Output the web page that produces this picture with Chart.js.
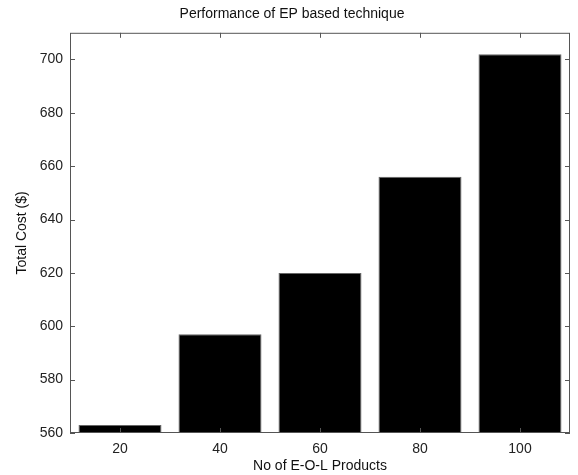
<!DOCTYPE html>
<html>
<head>
<meta charset="utf-8">
<script src="https://cdn.jsdelivr.net/npm/chart.js@4"></script>
<style>
  html, body { margin: 0; padding: 0; background: #fff; }
  #wrap { width: 578px; height: 475px; }
</style>
</head>
<body>
<div id="wrap"><canvas id="chart" width="578" height="475"></canvas></div>
<script>
// Donnees du graphique
const categories = ['20', '40', '60', '80', '100'];
const totalCost = [563, 597, 620, 656, 702];
const yTicks = [560, 580, 600, 620, 640, 660, 680, 700];

const FONT = "'Liberation Sans', Arial, sans-serif";
const frameColor = '#555';

// Cadre + graduations vers l'interieur (style MATLAB)
const framePlugin = {
    id: 'frame',
    afterDraw(chart) {
        const ctx = chart.ctx;
        const a = chart.chartArea;
        const x = chart.scales.x;
        const y = chart.scales.y;
        const len = 5;
        ctx.save();
        ctx.strokeStyle = frameColor;
        ctx.lineWidth = 1;
        ctx.strokeRect(a.left + 0.5, a.top + 0.5, a.right - a.left - 1, a.bottom - a.top - 1);
        ctx.beginPath();
        x.ticks.forEach((t, i) => {
            const px = Math.round(x.getPixelForTick(i)) + 0.5;
            ctx.moveTo(px, a.bottom); ctx.lineTo(px, a.bottom - len);
            ctx.moveTo(px, a.top); ctx.lineTo(px, a.top + len);
        });
        y.ticks.forEach((t, i) => {
            const py = Math.round(y.getPixelForTick(i)) + 0.5;
            ctx.moveTo(a.left, py); ctx.lineTo(a.left + len, py);
            ctx.moveTo(a.right, py); ctx.lineTo(a.right - len, py);
        });
        ctx.stroke();
        ctx.restore();
    }
};

new Chart(document.getElementById('chart'), {
    type: 'bar',
    data: {
        labels: categories,
        datasets: [{
            data: totalCost,
            backgroundColor: '#000',
            borderColor: '#666',
            borderWidth: 1,
            barPercentage: 0.83,
            categoryPercentage: 1.0
        }]
    },
    options: {
        responsive: false,
        animation: false,
        layout: { padding: { left: 14, right: 8, top: 6, bottom: 0 } },
        plugins: {
            legend: { display: false },
            tooltip: { enabled: false },
            title: {
                display: true,
                text: 'Performance of EP based technique',
                color: '#111',
                font: { family: FONT, size: 14, weight: 'normal' },
                padding: { top: 0, bottom: 10 }
            }
        },
        scales: {
            x: {
                grid: { display: false, drawTicks: false },
                border: { display: false },
                ticks: { color: '#222', font: { family: FONT, size: 14 }, padding: 8 },
                title: {
                    display: true,
                    text: 'No of E-O-L Products',
                    color: '#111',
                    font: { family: FONT, size: 14 },
                    padding: { top: 0, bottom: 0 }
                },
                afterFit(scale) { scale.height = 42; }
            },
            y: {
                min: 560,
                max: 710,
                grid: { display: false, drawTicks: false },
                border: { display: false },
                afterBuildTicks(scale) {
                    scale.ticks = yTicks.map(v => ({ value: v }));
                },
                ticks: { color: '#222', font: { family: FONT, size: 14 }, padding: 7 },
                title: {
                    display: true,
                    text: 'Total Cost ($)',
                    color: '#111',
                    font: { family: FONT, size: 14 },
                    padding: { top: 0, bottom: 4 }
                },
                afterFit(scale) { scale.width = 56; }
            }
        }
    },
    plugins: [framePlugin]
});
</script>
</body>
</html>
